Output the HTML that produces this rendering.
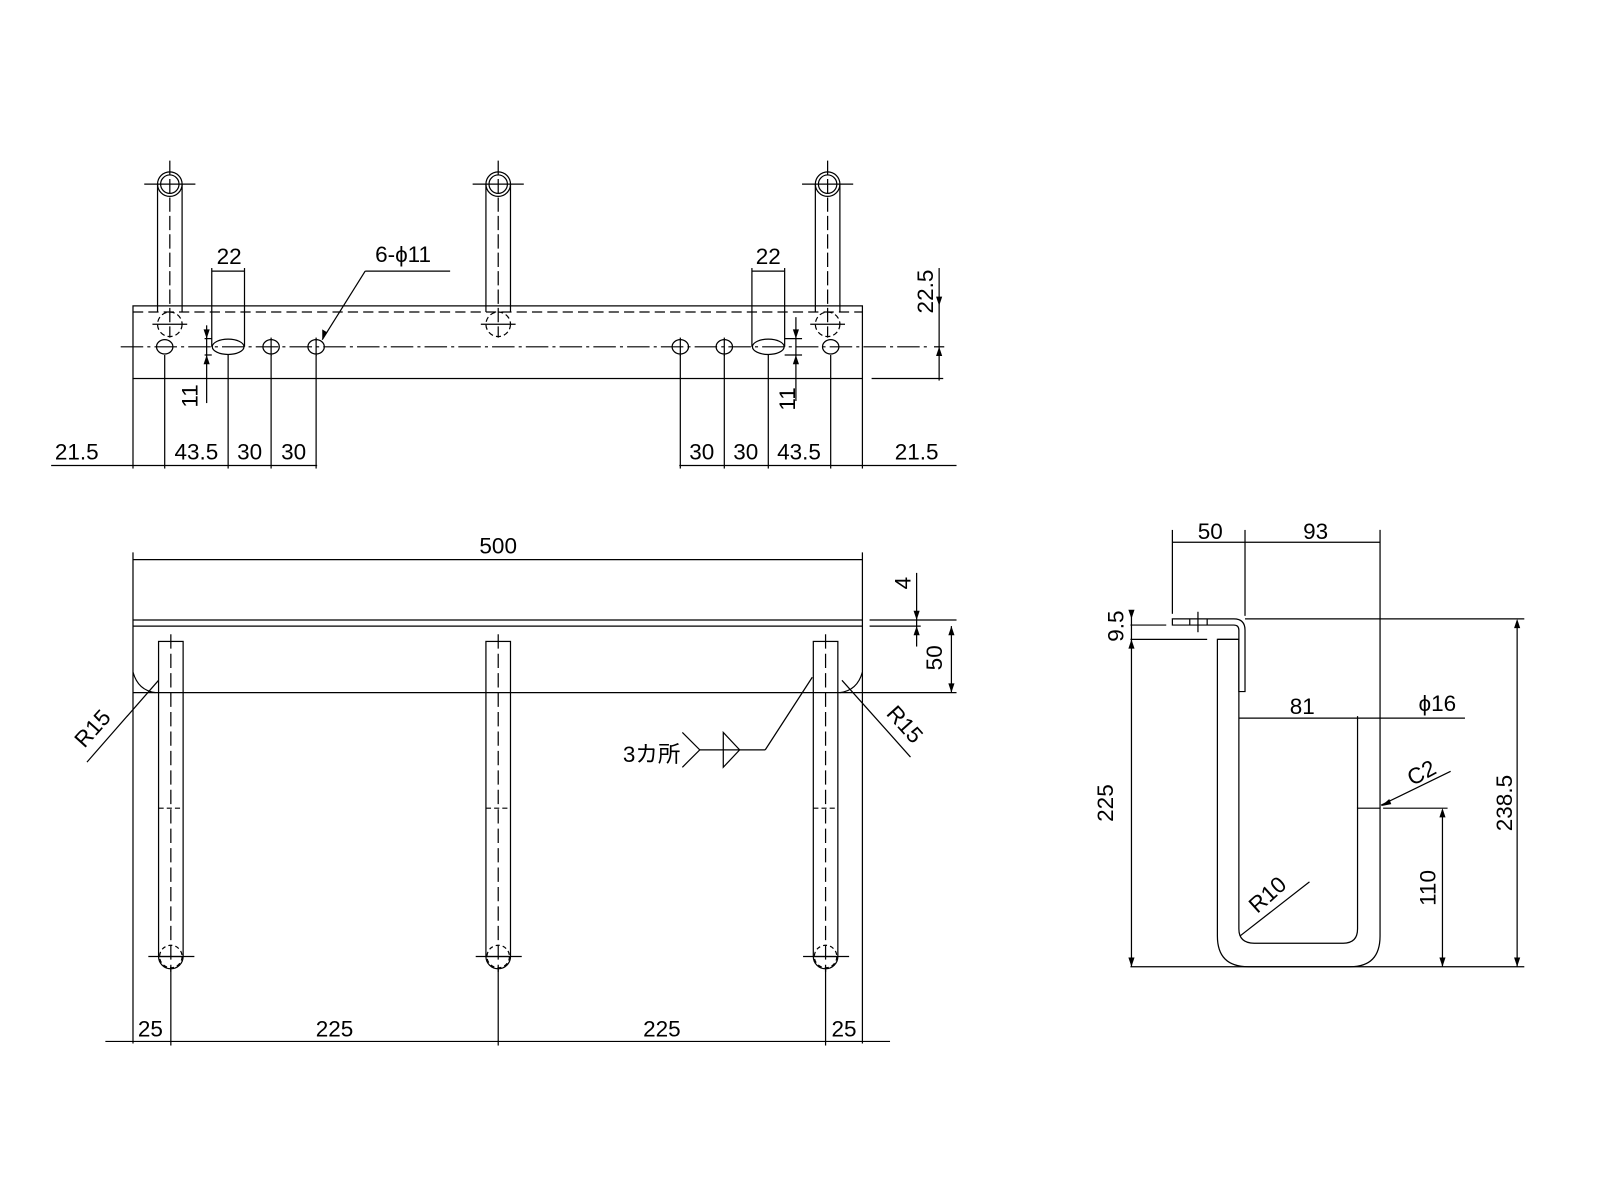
<!DOCTYPE html>
<html><head><meta charset="utf-8"><style>
html,body{margin:0;padding:0;background:#fff;}
svg{display:block}
text{font-family:"Liberation Sans","Noto Sans CJK JP",sans-serif;font-size:22px;fill:#000}
</style></head><body>
<svg width="1600" height="1200" viewBox="0 0 1564 1173" xmlns="http://www.w3.org/2000/svg">
<g stroke="#000" stroke-width="1.2" fill="none">
<rect x="130" y="299" width="713" height="71"/>
<line x1="130" y1="305" x2="843" y2="305" stroke-dasharray="10,5"/>
<line x1="118" y1="339" x2="910" y2="339" stroke-dasharray="22,4,3,4"/>
<g id="rodt">
<line x1="154" y1="180" x2="154" y2="305"/><line x1="178" y1="180" x2="178" y2="305"/>
<circle cx="166" cy="180" r="12"/><circle cx="166" cy="180" r="9"/>
<line x1="141" y1="180" x2="191" y2="180"/><line x1="166" y1="157" x2="166" y2="330" stroke-dasharray="14,4"/>
<circle cx="166" cy="317" r="12" stroke-dasharray="5,3"/>
<line x1="149" y1="317" x2="183" y2="317"/>
</g>
<use href="#rodt" x="321"/><use href="#rodt" x="643"/>
<ellipse cx="161" cy="339" rx="8" ry="7"/>
<ellipse cx="265" cy="339" rx="8" ry="7"/>
<ellipse cx="309" cy="339" rx="8" ry="7"/>
<ellipse cx="665" cy="339" rx="8" ry="7"/>
<ellipse cx="708" cy="339" rx="8" ry="7"/>
<ellipse cx="812" cy="339" rx="8" ry="7"/>
<ellipse cx="223" cy="339" rx="15.5" ry="7.5"/>
<ellipse cx="751" cy="339" rx="15.5" ry="7.5"/>
<line x1="265" y1="330" x2="265" y2="348"/><line x1="309" y1="330" x2="309" y2="348"/>
<line x1="665" y1="330" x2="665" y2="348"/><line x1="708" y1="330" x2="708" y2="348"/>
<line x1="207" y1="262" x2="207" y2="339"/><line x1="239" y1="262" x2="239" y2="339"/><line x1="207" y1="265" x2="239" y2="265"/>
<line x1="735" y1="262" x2="735" y2="339"/><line x1="767" y1="262" x2="767" y2="339"/><line x1="735" y1="265" x2="767" y2="265"/>
<line x1="200" y1="331" x2="207" y2="331"/><line x1="200" y1="347" x2="207" y2="347"/>
<line x1="202" y1="318" x2="202" y2="394"/>
<line x1="767" y1="331" x2="784" y2="331"/><line x1="767" y1="347" x2="784" y2="347"/>
<line x1="778" y1="310" x2="778" y2="392"/>
<line x1="357" y1="265" x2="440" y2="265"/><line x1="357" y1="265" x2="315" y2="332"/>
<line x1="852" y1="370" x2="922" y2="370"/>
<line x1="918" y1="262" x2="918" y2="372"/>
<line x1="913" y1="339" x2="923" y2="339"/>
<line x1="50" y1="455" x2="310" y2="455"/><line x1="664" y1="455" x2="935" y2="455"/>
<line x1="130" y1="370" x2="130" y2="458"/><line x1="161" y1="347" x2="161" y2="458"/>
<line x1="223" y1="347" x2="223" y2="458"/><line x1="265" y1="347" x2="265" y2="458"/><line x1="309" y1="347" x2="309" y2="458"/>
<line x1="665" y1="347" x2="665" y2="458"/><line x1="708" y1="347" x2="708" y2="458"/><line x1="751" y1="347" x2="751" y2="458"/>
<line x1="812" y1="347" x2="812" y2="458"/><line x1="843" y1="370" x2="843" y2="458"/>

<line x1="130" y1="540" x2="130" y2="1020"/><line x1="843" y1="540" x2="843" y2="1020"/>
<line x1="130" y1="547" x2="843" y2="547"/>
<line x1="130" y1="606" x2="843" y2="606"/><line x1="130" y1="612" x2="843" y2="612"/>
<line x1="850" y1="606" x2="935" y2="606"/><line x1="850" y1="612" x2="900" y2="612"/>
<line x1="130" y1="677" x2="935" y2="677"/>
<path d="M130 657 Q135 675 152 677"/><path d="M843 657 Q838 675 821 677"/>
<g id="rodf">
<rect x="155" y="627" width="24" height="308"/>
<path d="M155 935 A12 12 0 0 0 179 935"/>
<line x1="167" y1="620" x2="167" y2="950" stroke-dasharray="14,5"/>
<line x1="155" y1="790" x2="179" y2="790" stroke-dasharray="5,3"/>
<line x1="145" y1="935" x2="190" y2="935"/>
<circle cx="167" cy="935" r="11" stroke-dasharray="4,3"/>
</g>
<use href="#rodf" x="320"/><use href="#rodf" x="640"/>
<line x1="896" y1="560" x2="896" y2="632"/>
<line x1="930" y1="612" x2="930" y2="677"/>
<line x1="85" y1="745" x2="155" y2="665"/>
<line x1="823" y1="665" x2="890" y2="740"/>
<line x1="684" y1="733" x2="748" y2="733"/>
<path d="M667 716 L684 733 L667 750"/>
<path d="M707 716 L707 750 L723 733 Z"/>
<line x1="748" y1="733" x2="794" y2="662"/>
<line x1="103" y1="1018" x2="870" y2="1018"/>
<line x1="167" y1="945" x2="167" y2="1022"/><line x1="487" y1="945" x2="487" y2="1022"/><line x1="807" y1="945" x2="807" y2="1022"/>

<path d="M1146 605 L1206 605 Q1217 605 1217 616 L1217 676 L1211 676 L1211 616 Q1211 611 1206 611 L1146 611 Z"/>
<line x1="1163" y1="605" x2="1163" y2="611"/><line x1="1180" y1="605" x2="1180" y2="611"/>
<line x1="1171" y1="598" x2="1171" y2="618"/>
<path d="M1190 625 L1190 915 Q1190 945 1220 945 L1320 945 Q1349 945 1349 915 L1349 790 L1327 790 L1327 908 Q1327 922 1313 922 L1226 922 Q1211 922 1211 908 L1211 625 Z"/>
<line x1="1190" y1="625" x2="1211" y2="625"/>
<line x1="1146" y1="518" x2="1146" y2="600"/><line x1="1217" y1="518" x2="1217" y2="602"/><line x1="1349" y1="518" x2="1349" y2="790"/>
<line x1="1146" y1="530" x2="1349" y2="530"/>
<line x1="1217" y1="605" x2="1490" y2="605"/>
<line x1="1105" y1="611" x2="1140" y2="611"/><line x1="1105" y1="625" x2="1180" y2="625"/>
<line x1="1106" y1="600" x2="1106" y2="945"/>
<line x1="1211" y1="702" x2="1432" y2="702"/><line x1="1327" y1="700" x2="1327" y2="790"/>
<line x1="1483" y1="610" x2="1483" y2="945"/>
<line x1="1352" y1="790" x2="1415" y2="790"/><line x1="1410" y1="792" x2="1410" y2="945"/>
<line x1="1105" y1="945" x2="1490" y2="945"/>
<line x1="1350" y1="787" x2="1418" y2="754"/>
<line x1="1212" y1="915" x2="1280" y2="862"/>
</g>
<g fill="#000">
<path d="M896 606 l-3 -9 h6 z"/><path d="M896 612 l-3 9 h6 z"/>
<path d="M930 612 l-3 9 h6 z"/><path d="M930 677 l-3 -9 h6 z"/>
<path d="M1106 605 l-3 -9 h6 z"/><path d="M1106 625 l-3 9 h6 z"/><path d="M1106 945 l-3 -9 h6 z"/>
<path d="M1483 605 l-3 9 h6 z"/><path d="M1483 945 l-3 -9 h6 z"/>
<path d="M1410 790 l-3 9 h6 z"/><path d="M1410 945 l-3 -9 h6 z"/>
<path d="M202 331 l-3 -9 h6 z"/><path d="M202 347 l-3 9 h6 z"/>
<path d="M778 331 l-3 -9 h6 z"/><path d="M778 347 l-3 9 h6 z"/>
<path d="M918 299 l-3 -9 h6 z"/><path d="M918 339 l-3 9 h6 z"/>
<path d="M315 332 l0 -10 l5 3 z"/>
<path d="M1350 788 l8 -7 l2 5 z"/>
</g>
<text x="224" y="258" text-anchor="middle">22</text>
<text x="751" y="258" text-anchor="middle">22</text>
<text x="394" y="256" text-anchor="middle">6-ϕ11</text>
<text transform="translate(193 387) rotate(-90)" text-anchor="middle">11</text>
<text transform="translate(777 390) rotate(-90)" text-anchor="middle">11</text>
<text transform="translate(912 285) rotate(-90)" text-anchor="middle" font-size="21">22.5</text>
<text x="75" y="449" text-anchor="middle">21.5</text>
<text x="192" y="449" text-anchor="middle">43.5</text>
<text x="244" y="449" text-anchor="middle">30</text>
<text x="287" y="449" text-anchor="middle">30</text>
<text x="686" y="449" text-anchor="middle">30</text>
<text x="729" y="449" text-anchor="middle">30</text>
<text x="781" y="449" text-anchor="middle">43.5</text>
<text x="896" y="449" text-anchor="middle">21.5</text>
<text x="487" y="541" text-anchor="middle">500</text>
<text transform="translate(890 570) rotate(-90)" text-anchor="middle">4</text>
<text transform="translate(921 643) rotate(-90)" text-anchor="middle">50</text>
<text transform="translate(96 717) rotate(-48)" text-anchor="middle">R15</text>
<text transform="translate(879 713) rotate(48)" text-anchor="middle">R15</text>
<text x="637" y="745" text-anchor="middle" font-size="20">3カ所</text>
<text x="147" y="1013" text-anchor="middle">25</text>
<text x="327" y="1013" text-anchor="middle">225</text>
<text x="647" y="1013" text-anchor="middle">225</text>
<text x="825" y="1013" text-anchor="middle">25</text>
<text x="1183" y="527" text-anchor="middle">50</text>
<text x="1286" y="527" text-anchor="middle">93</text>
<text x="1273" y="698" text-anchor="middle">81</text>
<text x="1405" y="695" text-anchor="middle">ϕ16</text>
<text transform="translate(1098 612) rotate(-90)" text-anchor="middle">9.5</text>
<text transform="translate(1088 785) rotate(-90)" text-anchor="middle">225</text>
<text transform="translate(1478 785) rotate(-90)" text-anchor="middle">238.5</text>
<text transform="translate(1403 868) rotate(-90)" text-anchor="middle">110</text>
<text transform="translate(1393 762) rotate(-28)" text-anchor="middle">C2</text>
<text transform="translate(1244 880) rotate(-42)" text-anchor="middle">R10</text>
</svg>
</body></html>
